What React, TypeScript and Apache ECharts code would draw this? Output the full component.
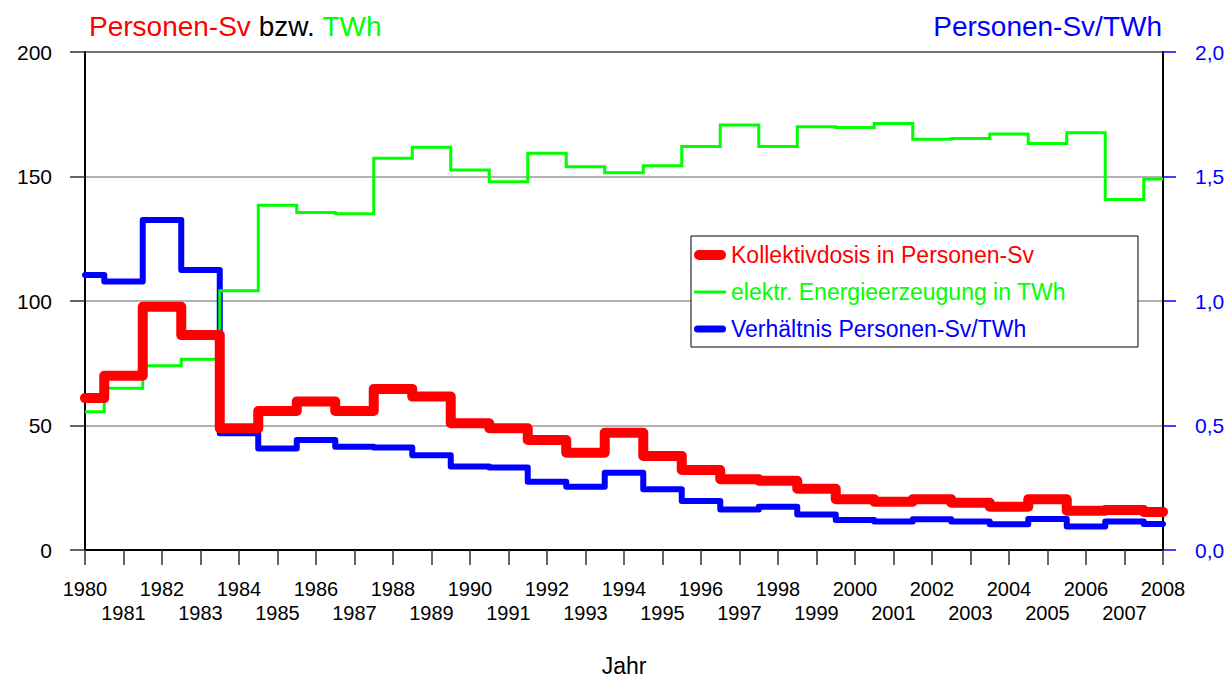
import React, { useEffect, useRef } from "react";
import * as echarts from "echarts";

const years = [
  "1980", "1981", "1982", "1983", "1984", "1985", "1986", "1987", "1988", "1989",
  "1990", "1991", "1992", "1993", "1994", "1995", "1996", "1997", "1998", "1999",
  "2000", "2001", "2002", "2003", "2004", "2005", "2006", "2007", "2008",
];

// Kollektivdosis in Personen-Sv (left axis)
const kollektivdosis = [
  61, 70, 97.7, 86.3, 48.9, 55.8, 59.6, 55.8, 64.7, 61.6,
  50.9, 48.9, 44.2, 39.1, 47.1, 37.8, 32.1, 28.4, 27.8, 24.6,
  20.4, 19.4, 20.4, 19, 17.4, 20.4, 15.8, 16.1, 15.3,
];

// elektr. Energieerzeugung in TWh (left axis)
const energie = [
  55.5, 65, 74, 76.6, 104.1, 138.5, 135.5, 135, 157.3, 161.7,
  152.6, 147.9, 159.3, 153.9, 151.5, 154.3, 162, 170.7, 162, 170,
  169.7, 171.3, 165, 165.3, 167.1, 163.3, 167.6, 140.8, 149,
];

// Verhältnis Personen-Sv/TWh (right axis)
const verhaeltnis = [
  1.104, 1.078, 1.325, 1.124, 0.469, 0.408, 0.442, 0.415, 0.412, 0.381,
  0.335, 0.331, 0.274, 0.254, 0.31, 0.244, 0.197, 0.163, 0.174, 0.143,
  0.12, 0.114, 0.123, 0.114, 0.103, 0.124, 0.094, 0.114, 0.104,
];

const leftTicks = { min: 0, max: 200, interval: 50 };
const rightTicks = { min: 0, max: 2, interval: 0.5 };

const RED = "#ff0000";
const GREEN = "#00ff00";
const BLUE = "#0000ff";
const FONT = "'Liberation Sans', Arial, sans-serif";

const nameDose = "Kollektivdosis in Personen-Sv";
const nameEnergy = "elektr. Energieerzeugung in TWh";
const nameRatio = "Verhältnis Personen-Sv/TWh";

export default function App() {
  const ref = useRef<HTMLDivElement>(null);

  useEffect(() => {
    if (!ref.current) return;
    const chart = echarts.init(ref.current, null, { renderer: "svg" });
    const option: any = {
      animation: false,
      backgroundColor: "#fff",
      textStyle: { fontFamily: FONT },
      title: [
        {
          text: "{r|Personen-Sv} {k|bzw.} {g|TWh}",
          left: 89,
          top: 12,
          padding: 0,
          textStyle: {
            fontSize: 28,
            fontWeight: "normal",
            fontFamily: FONT,
            color: "#000",
            rich: {
              r: { color: RED, fontSize: 28, fontFamily: FONT },
              k: { color: "#000", fontSize: 28, fontFamily: FONT },
              g: { color: GREEN, fontSize: 28, fontFamily: FONT },
            },
          },
        },
        {
          text: "Personen-Sv/TWh",
          right: 70,
          top: 12,
          padding: 0,
          textStyle: { fontSize: 28, fontWeight: "normal", fontFamily: FONT, color: BLUE },
        },
      ],
      legend: {
        orient: "vertical",
        left: 691,
        top: 236,
        padding: [7, 72, 6, 3],
        backgroundColor: "#fff",
        borderColor: "#000",
        borderWidth: 1,
        itemWidth: 32,
        itemHeight: 10,
        itemGap: 13,
        selectedMode: false,
        textStyle: { fontSize: 23, lineHeight: 24, fontFamily: FONT },
        data: [
          {
            name: nameDose,
            icon: "path://M5,0H27A5,5,0,0,1,27,10H5A5,5,0,0,1,5,0Z",
            itemStyle: { color: RED, borderWidth: 0 },
            textStyle: { color: RED },
          },
          {
            name: nameEnergy,
            icon: "path://M0,0H32V3H0Z",
            itemStyle: { color: GREEN, borderWidth: 0 },
            textStyle: { color: GREEN },
          },
          {
            name: nameRatio,
            icon: "path://M3.5,0H28.5A3.5,3.5,0,0,1,28.5,7H3.5A3.5,3.5,0,0,1,3.5,0Z",
            itemStyle: { color: BLUE, borderWidth: 0 },
            textStyle: { color: BLUE },
          },
        ],
      },
      grid: {
        left: 85,
        right: 69,
        top: 52,
        bottom: 127,
        containLabel: false,
        outerBoundsMode: "none",
        show: true,
        borderColor: "#000",
        borderWidth: 2,
        backgroundColor: "transparent",
      },
      xAxis: {
        type: "category",
        data: years,
        boundaryGap: false,
        axisLine: { lineStyle: { color: "#000", width: 2 } },
        axisTick: { interval: 0, length: 15, lineStyle: { color: "#333", width: 1.5 } },
        axisLabel: {
          interval: 0,
          margin: 27,
          fontSize: 20,
          lineHeight: 24,
          color: "#000",
          fontFamily: FONT,
          formatter: (v: string, i: number) => (i % 2 ? "\n" + v : v),
        },
        splitLine: { show: false },
        name: "Jahr",
        nameLocation: "middle",
        nameGap: 104,
        nameTextStyle: { fontSize: 23, color: "#000", fontFamily: FONT },
      },
      yAxis: [
        {
          type: "value",
          position: "left",
          ...leftTicks,
          axisLine: { show: true, lineStyle: { color: "#000", width: 2 } },
          axisTick: { show: true, length: 15, lineStyle: { color: "#333", width: 1.5 } },
          axisLabel: { margin: 33, fontSize: 21, color: "#000", fontFamily: FONT },
          splitLine: { show: true, lineStyle: { color: "#999", width: 1.5 } },
        },
        {
          type: "value",
          position: "right",
          ...rightTicks,
          axisLine: { show: true, lineStyle: { color: "#000", width: 2 } },
          axisTick: { show: true, length: 13, lineStyle: { color: BLUE, width: 1.5 } },
          axisLabel: {
            margin: 32,
            fontSize: 21,
            color: BLUE,
            fontFamily: FONT,
            formatter: (v: number) => v.toFixed(1).replace(".", ","),
          },
          splitLine: { show: false },
        },
      ],
      series: [
        {
          name: nameRatio,
          type: "line",
          step: "middle",
          yAxisIndex: 1,
          data: verhaeltnis,
          showSymbol: false,
          z: 2,
          lineStyle: { color: BLUE, width: 6, cap: "round", join: "round" },
          itemStyle: { color: BLUE },
        },
        {
          name: nameEnergy,
          type: "line",
          step: "middle",
          yAxisIndex: 0,
          data: energie,
          showSymbol: false,
          z: 3,
          lineStyle: { color: GREEN, width: 3, cap: "butt", join: "miter" },
          itemStyle: { color: GREEN },
        },
        {
          name: nameDose,
          type: "line",
          step: "middle",
          yAxisIndex: 0,
          data: kollektivdosis,
          showSymbol: false,
          z: 4,
          lineStyle: { color: RED, width: 10, cap: "round", join: "round" },
          itemStyle: { color: RED },
        },
      ],
    };
    chart.setOption(option);
    return () => chart.dispose();
  }, []);

  return (
    <div
      ref={ref}
      style={{ position: "absolute", left: 0, top: 0, width: 1232, height: 677 }}
    />
  );
}
